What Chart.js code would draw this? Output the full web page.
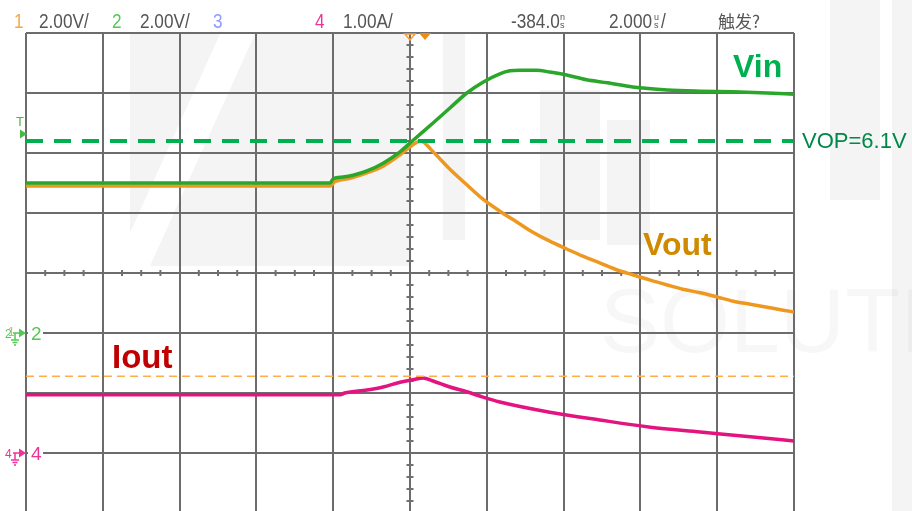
<!DOCTYPE html>
<html>
<head>
<meta charset="utf-8">
<script src="https://cdn.jsdelivr.net/npm/chart.js@4.4.1/dist/chart.umd.min.js"></script>
<style>
  html, body { margin: 0; padding: 0; background: #ffffff; overflow: hidden; }
  #wrap { width: 912px; height: 511px; }
</style>
</head>
<body>
<div id="wrap"><canvas id="c" width="912" height="511"></canvas></div>
<script>
// ---- Data (time in divisions from trigger, level in divisions from screen centre) ----
const vinTime  = [-5.0, -1.04, -1.00, -0.87, -0.74, -0.56, -0.35, -0.13, 0.03, 0.30, 0.52, 0.74, 0.95, 1.17, 1.30, 1.43, 1.65, 1.82, 2.04, 2.30, 2.57, 2.90, 3.35, 3.78, 4.21, 4.65, 5.0];
const vinLevel = [1.50, 1.50, 1.57, 1.60, 1.63, 1.70, 1.83, 2.02, 2.20, 2.50, 2.75, 3.00, 3.18, 3.32, 3.37, 3.38, 3.38, 3.35, 3.30, 3.22, 3.17, 3.10, 3.05, 3.03, 3.02, 3.00, 2.98];

const voutTime  = [-5.0, -1.04, -0.98, -0.78, -0.56, -0.35, -0.13, 0.03, 0.14, 0.30, 0.52, 0.74, 0.95, 1.17, 1.39, 1.60, 1.82, 2.04, 2.25, 2.47, 2.70, 2.90, 3.13, 3.35, 3.55, 3.78, 4.00, 4.21, 4.43, 4.65, 4.86, 5.0];
const voutLevel = [1.45, 1.45, 1.52, 1.58, 1.67, 1.78, 1.97, 2.13, 2.20, 2.02, 1.73, 1.47, 1.23, 1.03, 0.85, 0.68, 0.53, 0.40, 0.28, 0.17, 0.05, -0.03, -0.12, -0.20, -0.27, -0.33, -0.40, -0.47, -0.52, -0.57, -0.62, -0.65];

const ioutTime  = [-5.0, -0.91, -0.85, -0.56, -0.35, -0.13, 0.04, 0.17, 0.30, 0.52, 0.74, 0.95, 1.17, 1.82, 2.47, 3.13, 3.78, 4.43, 5.0];
const ioutLevel = [-2.03, -2.03, -2.00, -1.95, -1.90, -1.82, -1.78, -1.75, -1.80, -1.90, -1.98, -2.07, -2.15, -2.32, -2.45, -2.57, -2.65, -2.73, -2.80];

const vopLevel = 2.2;      // VOP = 6.1 V threshold line
const refLevel = -1.72;    // orange reference line
const ch2Ground = -1;      // channel 2 ground marker level
const ch4Ground = -3;      // channel 4 ground marker level
const xRange = [-5, 5];
const yRange = [-3.967, 4];
const xGridTicks = [-5, -4, -3, -2, -1, 0, 1, 2, 3, 4, 5];
const yGridTicks = [-3, -2, -1, 0, 1, 2, 3, 4];

const seriesNames = ['Vin', 'Vout', 'Iout'];
const headerItems = [
  { text: '1', color: '#f5a84a', x: 14 },
  { text: '2.00V/', color: '#555555', x: 39 },
  { text: '2', color: '#55c855', x: 112 },
  { text: '2.00V/', color: '#555555', x: 140 },
  { text: '3', color: '#8c9cff', x: 213 },
  { text: '4', color: '#ee3399', x: 315 },
  { text: '1.00A/', color: '#555555', x: 343 }
];

const pts = (t, v) => t.map((x, i) => ({ x: x, y: v[i] }));

// ---- decoration plugin ----
const scopePlugin = {
  id: 'scope',
  beforeDraw(chart) {
    const ctx = chart.ctx;
    ctx.save();
    ctx.fillStyle = '#ffffff';
    ctx.fillRect(0, 0, chart.width, chart.height);
    // faint watermark shapes
    ctx.fillStyle = '#f4f4f4';
    ctx.fillRect(130, 34, 280, 232);
    ctx.fillRect(443, 34, 22, 206);
    ctx.fillRect(540, 90, 60, 150);
    ctx.fillRect(607, 120, 43, 125);
    ctx.fillRect(830, 0, 50, 200);
    ctx.fillRect(892, 0, 20, 511);
    ctx.fillStyle = '#ffffff';
    ctx.beginPath();
    ctx.moveTo(220, 34); ctx.lineTo(255, 34); ctx.lineTo(150, 266); ctx.lineTo(115, 266); ctx.closePath();
    ctx.fill();
    ctx.font = '90px "Liberation Sans"';
    ctx.fillStyle = 'rgba(0,0,0,0.03)';
    ctx.fillText('SOLUTI', 600, 352);
    ctx.restore();
  },
  beforeDatasetsDraw(chart) {
    const ctx = chart.ctx;
    const xs = chart.scales.x, ys = chart.scales.y;
    const cx = xs.getPixelForValue(0), cy = ys.getPixelForValue(0);
    ctx.save();
    ctx.strokeStyle = '#707070';
    ctx.lineWidth = 2;
    for (let v = yRange[0]; v <= yRange[1]; v += 0.2) {
      const r = Math.round(v * 5) / 5;
      if (Math.abs(r - Math.round(r)) < 1e-6) continue;
      const py = ys.getPixelForValue(r);
      ctx.beginPath(); ctx.moveTo(cx - 3.5, py); ctx.lineTo(cx + 3.5, py); ctx.stroke();
    }
    for (let t = xRange[0]; t <= xRange[1]; t += 0.25) {
      if (Math.abs(t - Math.round(t)) < 1e-6) continue;
      const px = xs.getPixelForValue(t);
      ctx.beginPath(); ctx.moveTo(px, cy - 3); ctx.lineTo(px, cy + 3); ctx.stroke();
    }
    ctx.restore();
  },
  afterDraw(chart) {
    const ctx = chart.ctx;
    const ys = chart.scales.y, xs = chart.scales.x;
    const area = chart.chartArea;
    ctx.save();
    ctx.textBaseline = 'alphabetic';
    const drawNarrow = (txt, x, y, color, size) => {
      ctx.save();
      ctx.translate(x, y);
      ctx.scale(0.86, 1);
      ctx.font = size + 'px "Liberation Sans"';
      ctx.fillStyle = color;
      ctx.fillText(txt, 0, 0);
      ctx.restore();
    };
    headerItems.forEach(h => drawNarrow(h.text, h.x, 28, h.color, 20));
    drawNarrow('-384.0', 511, 28, '#555555', 20);
    ctx.font = '9px "Liberation Sans"'; ctx.fillStyle = '#555555';
    ctx.fillText('n', 560, 20); ctx.fillText('s', 560, 28);
    drawNarrow('2.000', 609, 28, '#555555', 20);
    ctx.font = '9px "Liberation Sans"'; ctx.fillStyle = '#555555';
    ctx.fillText('u', 654, 20); ctx.fillText('s', 654, 28);
    drawNarrow('/', 661, 28, '#555555', 20);
    ctx.font = '17px "Noto Sans CJK SC"'; ctx.fillStyle = '#555555';
    ctx.fillText('触发?', 718, 28);

    // trigger markers at top
    const tx = xs.getPixelForValue(0);
    ctx.strokeStyle = '#f5a040'; ctx.lineWidth = 1.5;
    ctx.beginPath(); ctx.moveTo(tx - 5, area.top + 1); ctx.lineTo(tx + 5, area.top + 1); ctx.lineTo(tx, area.top + 7); ctx.closePath(); ctx.stroke();
    ctx.fillStyle = '#f08a10';
    ctx.beginPath(); ctx.moveTo(tx + 9, area.top); ctx.lineTo(tx + 21, area.top); ctx.lineTo(tx + 15, area.top + 7); ctx.closePath(); ctx.fill();

    // trigger level marker "T"
    const ty = ys.getPixelForValue(vopLevel) - 7;
    ctx.fillStyle = '#44bb44';
    ctx.font = '13px "Liberation Sans"';
    ctx.fillText('T', 16, ty - 8);
    ctx.beginPath(); ctx.moveTo(20, ty - 4.5); ctx.lineTo(27, ty); ctx.lineTo(20, ty + 4.5); ctx.closePath(); ctx.fill();

    // channel ground markers
    const chan = (level, color, label, extra) => {
      const py = ys.getPixelForValue(level);
      ctx.fillStyle = '#ffffff';
      ctx.fillRect(area.left + 2, py - 10, 15, 20);
      ctx.fillStyle = color;
      ctx.font = '19px "Liberation Sans"';
      ctx.fillText(label, 31, py + 7);
      ctx.font = '12px "Liberation Sans"';
      ctx.fillText(label, 5, py + 5);
      if (extra) { ctx.fillStyle = extra; ctx.fillText('1', 8, py + 3); ctx.fillStyle = color; }
      ctx.strokeStyle = color; ctx.lineWidth = 1.5;
      ctx.beginPath(); ctx.moveTo(13, py); ctx.lineTo(19, py); ctx.moveTo(15, py); ctx.lineTo(15, py + 7);
      ctx.moveTo(11, py + 7); ctx.lineTo(19, py + 7);
      ctx.moveTo(12.5, py + 9.5); ctx.lineTo(17.5, py + 9.5);
      ctx.moveTo(14, py + 12); ctx.lineTo(16, py + 12); ctx.stroke();
      ctx.beginPath(); ctx.moveTo(19, py - 4.5); ctx.lineTo(26, py); ctx.lineTo(19, py + 4.5); ctx.closePath(); ctx.fill();
    };
    chan(ch2Ground, '#55c855', '2', '#f5a84a');
    chan(ch4Ground, '#ee3399', '4', null);

    // series labels
    ctx.font = 'bold 32px "Liberation Sans"';
    ctx.fillStyle = '#00b050'; ctx.fillText(seriesNames[0], 733, 77);
    ctx.fillStyle = '#d08a00'; ctx.fillText(seriesNames[1], 643, 255);
    ctx.fillStyle = '#c00000'; ctx.font = 'bold 33px "Liberation Sans"'; ctx.fillText(seriesNames[2], 112, 368);
    ctx.font = '22px "Liberation Sans"';
    ctx.fillStyle = '#00884a';
    ctx.textBaseline = 'middle';
    ctx.fillText('VOP=6.1V', 802, ys.getPixelForValue(vopLevel) + 1);
    ctx.restore();
  }
};

const lineBase = { pointRadius: 0, fill: false, cubicInterpolationMode: 'monotone' };

new Chart(document.getElementById('c'), {
  type: 'line',
  data: {
    datasets: [
      Object.assign({ label: 'VOP', data: pts(xRange, [vopLevel, vopLevel]), borderColor: '#00b050', borderWidth: 4, borderDash: [17, 11], order: 0 }, lineBase),
      Object.assign({ label: seriesNames[0], data: pts(vinTime, vinLevel), borderColor: '#2aa62a', borderWidth: 3.5, order: 1 }, lineBase),
      Object.assign({ label: seriesNames[1], data: pts(voutTime, voutLevel), borderColor: '#ee9820', borderWidth: 3.5, order: 2 }, lineBase),
      Object.assign({ label: 'ref', data: pts(xRange, [refLevel, refLevel]), borderColor: '#ffad4a', borderWidth: 1.5, borderDash: [8, 5], order: 3 }, lineBase),
      Object.assign({ label: seriesNames[2], data: pts(ioutTime, ioutLevel), borderColor: '#e3147f', borderWidth: 3.5, order: 4 }, lineBase)
    ]
  },
  options: {
    responsive: false,
    animation: false,
    devicePixelRatio: 1,
    layout: { padding: { left: 26, right: 118, top: 33, bottom: 0 } },
    plugins: { legend: { display: false }, tooltip: { enabled: false }, title: { display: false } },
    scales: {
      x: {
        type: 'linear', min: xRange[0], max: xRange[1],
        afterBuildTicks: s => { s.ticks = xGridTicks.map(v => ({ value: v })); },
        ticks: { display: false },
        grid: { color: '#6c6c6c', lineWidth: 2, drawTicks: false },
        border: { display: false }
      },
      y: {
        type: 'linear', min: yRange[0], max: yRange[1],
        afterBuildTicks: s => { s.ticks = yGridTicks.map(v => ({ value: v })); },
        ticks: { display: false },
        grid: { color: '#6c6c6c', lineWidth: 2, drawTicks: false },
        border: { display: false }
      }
    }
  },
  plugins: [scopePlugin]
});
</script>
</body>
</html>
